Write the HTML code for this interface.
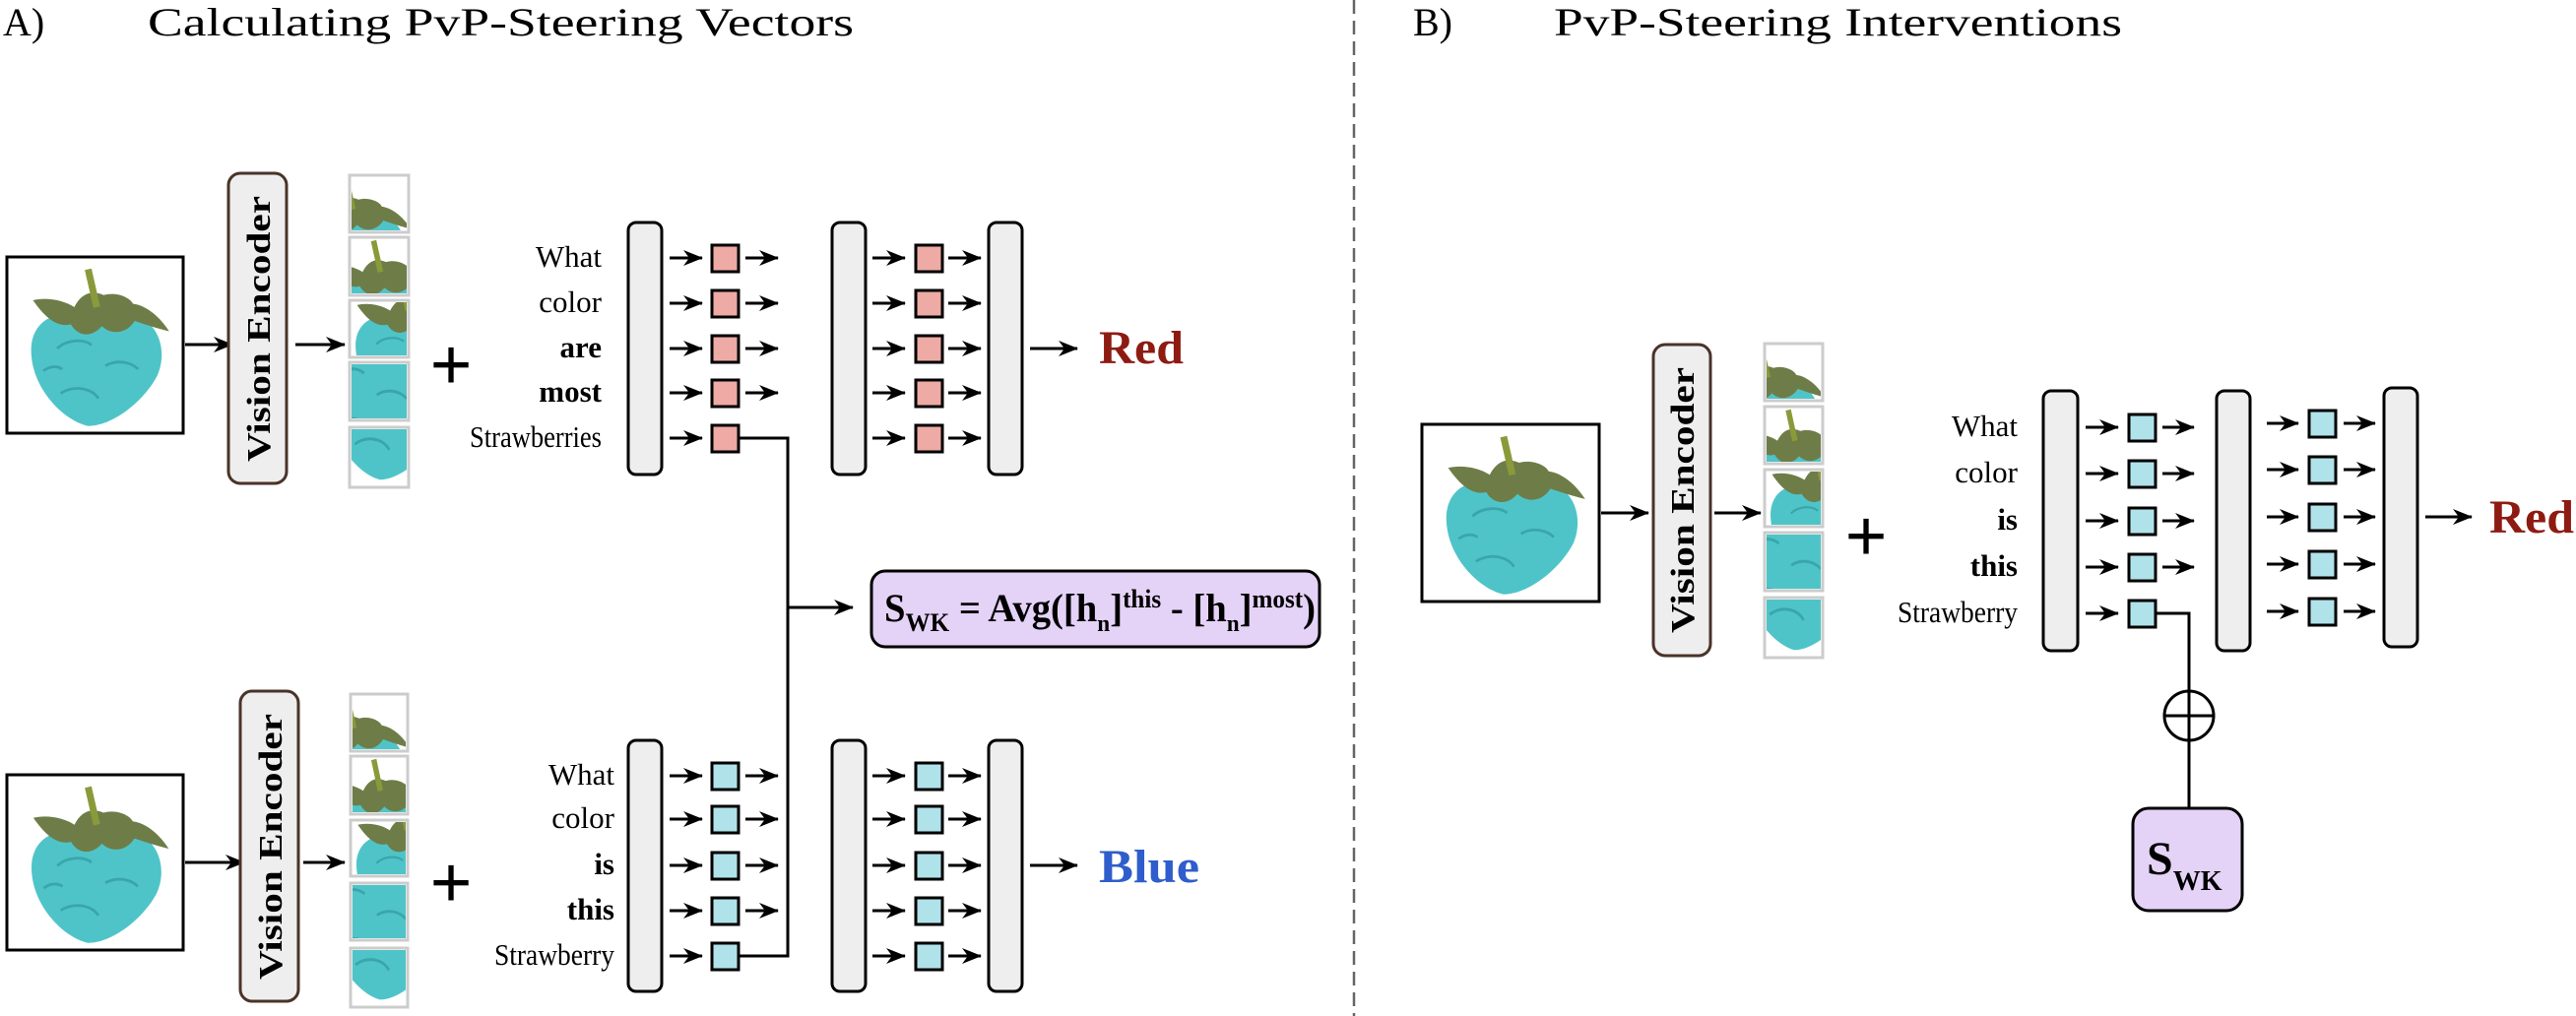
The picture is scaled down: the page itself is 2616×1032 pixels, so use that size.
<!DOCTYPE html>
<html><head><meta charset="utf-8"><style>
html,body{margin:0;padding:0;background:#fff;}
svg{display:block;}
text{font-family:"Liberation Serif","Times New Roman",serif;}
</style></head><body>
<svg width="2616" height="1032" viewBox="0 0 2616 1032" xmlns="http://www.w3.org/2000/svg" font-family="'Liberation Serif', 'Times New Roman', serif">
<defs>
<marker id="ahb" viewBox="0 0 20 16" refX="19" refY="8" markerWidth="20" markerHeight="16" markerUnits="userSpaceOnUse" orient="auto">
<path d="M0,0 L20,8 L0,16 L6,8 Z" fill="#000"/>
</marker>
<g id="sb">
<path d="M46,97 C32,94 14,76 13,55 C12,40 22,31 36,32 C46,29 62,29 74,33 C88,38 92,55 86,68 C78,83 60,97 46,97Z" fill="#4fc4c8"/>
<path d="M28,52 C33,47 43,46 48,50 M56,62 C63,58 71,60 75,64 M30,78 C38,73 48,75 52,81 M20,65 C24,62 28,62 31,64" stroke="#3aa6ab" stroke-width="1.6" fill="none"/>
<path d="M14,24 C22,22 32,24 38,28 C42,20 48,18 55,21 C62,19 70,22 72,26 C80,27 88,34 93,42 C85,40 79,38 73,36 C68,44 59,44 54,39 C48,46 40,45 36,38 C28,40 21,34 14,24Z" fill="#6e7d48"/>
<path d="M46,6 L51,28" stroke="#8a9a3a" stroke-width="4"/>
</g>
</defs>

<text x="3" y="36" font-size="40">A)</text>
<text x="150" y="36" font-size="40" textLength="717" lengthAdjust="spacingAndGlyphs">Calculating PvP-Steering Vectors</text>
<text x="1435" y="36" font-size="40">B)</text>
<text x="1578" y="36" font-size="40" textLength="577" lengthAdjust="spacingAndGlyphs">PvP-Steering Interventions</text>
<line x1="1375" y1="0" x2="1375" y2="1032" stroke="#666" stroke-width="2.5" stroke-dasharray="14,7"/>

<!-- PANEL A TOP -->
<rect x="7" y="261" width="179" height="179" fill="#fff" stroke="#000" stroke-width="3"/>
<svg x="9" y="263" width="175" height="175" viewBox="0 0 100 100"><use href="#sb"/></svg>
<line x1="188" y1="350" x2="236" y2="350" stroke="#000" stroke-width="3" marker-end="url(#ahb)"/>
<rect x="232" y="176" width="59" height="315" rx="12" fill="#eee" stroke="#4a3328" stroke-width="3"/>
<text transform="translate(274,334) rotate(-90)" font-size="34" font-weight="bold" text-anchor="middle" textLength="270" lengthAdjust="spacingAndGlyphs">Vision Encoder</text>
<line x1="300" y1="350" x2="350" y2="350" stroke="#000" stroke-width="3" marker-end="url(#ahb)"/>
<g stroke="#ccc" stroke-width="3" fill="#fff">
<rect x="355" y="178" width="60" height="58"/><rect x="355" y="241" width="60" height="59"/><rect x="355" y="305" width="60" height="58"/><rect x="355" y="368" width="60" height="59"/><rect x="355" y="434" width="60" height="61"/>
</g>
<svg x="357" y="180" width="56" height="54" viewBox="50 5 40 38" preserveAspectRatio="none"><use href="#sb"/></svg>
<svg x="357" y="243" width="56" height="55" viewBox="30 5 40 38" preserveAspectRatio="none"><use href="#sb"/></svg>
<svg x="357" y="307" width="56" height="54" viewBox="10 22 40 38" preserveAspectRatio="none"><use href="#sb"/></svg>
<svg x="357" y="370" width="56" height="55" viewBox="40 45 35 30" preserveAspectRatio="none"><use href="#sb"/></svg>
<svg x="357" y="436" width="56" height="57" viewBox="28 70 35 30" preserveAspectRatio="none"><use href="#sb"/></svg>
<text x="458" y="396" font-size="76" font-weight="bold" text-anchor="middle">+</text>
<g font-size="31" text-anchor="end">
<text x="611" y="271">What</text><text x="611" y="317">color</text><text x="611" y="363" font-weight="bold">are</text><text x="611" y="408" font-weight="bold">most</text><text x="611" y="454" textLength="134" lengthAdjust="spacingAndGlyphs">Strawberries</text>
</g>

<!-- PANEL A BOTTOM -->
<rect x="7" y="787" width="179" height="178" fill="#fff" stroke="#000" stroke-width="3"/>
<svg x="9" y="789" width="175" height="174" viewBox="0 0 100 100"><use href="#sb"/></svg>
<line x1="188" y1="876" x2="248" y2="876" stroke="#000" stroke-width="3" marker-end="url(#ahb)"/>
<rect x="244" y="702" width="59" height="315" rx="12" fill="#eee" stroke="#4a3328" stroke-width="3"/>
<text transform="translate(286,860) rotate(-90)" font-size="34" font-weight="bold" text-anchor="middle" textLength="270" lengthAdjust="spacingAndGlyphs">Vision Encoder</text>
<line x1="308" y1="876" x2="350" y2="876" stroke="#000" stroke-width="3" marker-end="url(#ahb)"/>
<g stroke="#ccc" stroke-width="3" fill="#fff">
<rect x="356" y="705" width="58" height="58"/><rect x="356" y="768" width="58" height="59"/><rect x="356" y="833" width="58" height="57"/><rect x="356" y="897" width="58" height="58"/><rect x="356" y="963" width="58" height="60"/>
</g>
<svg x="358" y="707" width="54" height="54" viewBox="50 5 40 38" preserveAspectRatio="none"><use href="#sb"/></svg>
<svg x="358" y="770" width="54" height="55" viewBox="30 5 40 38" preserveAspectRatio="none"><use href="#sb"/></svg>
<svg x="358" y="835" width="54" height="53" viewBox="10 22 40 38" preserveAspectRatio="none"><use href="#sb"/></svg>
<svg x="358" y="899" width="54" height="54" viewBox="40 45 35 30" preserveAspectRatio="none"><use href="#sb"/></svg>
<svg x="358" y="965" width="54" height="56" viewBox="28 70 35 30" preserveAspectRatio="none"><use href="#sb"/></svg>
<text x="458" y="922" font-size="76" font-weight="bold" text-anchor="middle">+</text>
<g font-size="31" text-anchor="end">
<text x="624" y="797">What</text><text x="624" y="841">color</text><text x="624" y="888" font-weight="bold">is</text><text x="624" y="934" font-weight="bold">this</text><text x="624" y="980" textLength="122" lengthAdjust="spacingAndGlyphs">Strawberry</text>
</g>

<g fill="#eee" stroke="#000" stroke-width="3">
<rect x="638" y="226" width="34" height="256" rx="8"/><rect x="845" y="226" width="34" height="256" rx="8"/><rect x="1004" y="226" width="34" height="256" rx="8"/>
<rect x="638" y="752" width="34" height="255" rx="8"/><rect x="845" y="752" width="34" height="255" rx="8"/><rect x="1004" y="752" width="34" height="255" rx="8"/>
</g>
<g stroke="#000" stroke-width="3" marker-end="url(#ahb)">
<line x1="680" y1="262" x2="713" y2="262"/><line x1="757" y1="262" x2="790" y2="262"/><line x1="886" y1="262" x2="919" y2="262"/><line x1="963" y1="262" x2="996" y2="262"/>
<line x1="680" y1="308" x2="713" y2="308"/><line x1="757" y1="308" x2="790" y2="308"/><line x1="886" y1="308" x2="919" y2="308"/><line x1="963" y1="308" x2="996" y2="308"/>
<line x1="680" y1="354" x2="713" y2="354"/><line x1="757" y1="354" x2="790" y2="354"/><line x1="886" y1="354" x2="919" y2="354"/><line x1="963" y1="354" x2="996" y2="354"/>
<line x1="680" y1="399" x2="713" y2="399"/><line x1="757" y1="399" x2="790" y2="399"/><line x1="886" y1="399" x2="919" y2="399"/><line x1="963" y1="399" x2="996" y2="399"/>
<line x1="680" y1="445" x2="713" y2="445"/><line x1="886" y1="445" x2="919" y2="445"/><line x1="963" y1="445" x2="996" y2="445"/>
<line x1="1046" y1="354" x2="1094" y2="354"/>
<line x1="680" y1="788" x2="713" y2="788"/><line x1="757" y1="788" x2="790" y2="788"/><line x1="886" y1="788" x2="919" y2="788"/><line x1="963" y1="788" x2="996" y2="788"/>
<line x1="680" y1="832" x2="713" y2="832"/><line x1="757" y1="832" x2="790" y2="832"/><line x1="886" y1="832" x2="919" y2="832"/><line x1="963" y1="832" x2="996" y2="832"/>
<line x1="680" y1="879" x2="713" y2="879"/><line x1="757" y1="879" x2="790" y2="879"/><line x1="886" y1="879" x2="919" y2="879"/><line x1="963" y1="879" x2="996" y2="879"/>
<line x1="680" y1="925" x2="713" y2="925"/><line x1="757" y1="925" x2="790" y2="925"/><line x1="886" y1="925" x2="919" y2="925"/><line x1="963" y1="925" x2="996" y2="925"/>
<line x1="680" y1="971" x2="713" y2="971"/><line x1="886" y1="971" x2="919" y2="971"/><line x1="963" y1="971" x2="996" y2="971"/>
<line x1="1046" y1="879" x2="1094" y2="879"/>
<line x1="800" y1="617" x2="866" y2="617"/>
</g>
<polyline points="750,445 800,445 800,971 750,971" fill="none" stroke="#000" stroke-width="3"/>
<g fill="#eeaaa4" stroke="#000" stroke-width="3">
<rect x="723" y="249" width="27" height="27"/><rect x="723" y="295" width="27" height="27"/><rect x="723" y="341" width="27" height="27"/><rect x="723" y="386" width="27" height="27"/><rect x="723" y="432" width="27" height="27"/>
<rect x="930" y="249" width="27" height="27"/><rect x="930" y="295" width="27" height="27"/><rect x="930" y="341" width="27" height="27"/><rect x="930" y="386" width="27" height="27"/><rect x="930" y="432" width="27" height="27"/>
</g>
<g fill="#b0e2ea" stroke="#000" stroke-width="3">
<rect x="723" y="775" width="27" height="27"/><rect x="723" y="819" width="27" height="27"/><rect x="723" y="866" width="27" height="27"/><rect x="723" y="912" width="27" height="27"/><rect x="723" y="958" width="27" height="27"/>
<rect x="930" y="775" width="27" height="27"/><rect x="930" y="819" width="27" height="27"/><rect x="930" y="866" width="27" height="27"/><rect x="930" y="912" width="27" height="27"/><rect x="930" y="958" width="27" height="27"/>
</g>
<text x="1116" y="369" font-size="48" font-weight="bold" fill="#8e1b12" textLength="86" lengthAdjust="spacingAndGlyphs">Red</text>
<text x="1116" y="896" font-size="48" font-weight="bold" fill="#2f5dcc" textLength="102" lengthAdjust="spacingAndGlyphs">Blue</text>
<rect x="885" y="580" width="455" height="77" rx="14" fill="#e5d2f7" stroke="#000" stroke-width="3"/>
<text x="898" y="631" font-size="40" font-weight="bold" textLength="438" lengthAdjust="spacingAndGlyphs">S<tspan font-size="26" dy="10">WK</tspan><tspan dy="-10"> = Avg([h</tspan><tspan font-size="24" dy="10">n</tspan><tspan dy="-10">]</tspan><tspan font-size="26" dy="-14">this</tspan><tspan dy="14"> - [h</tspan><tspan font-size="24" dy="10">n</tspan><tspan dy="-10">]</tspan><tspan font-size="26" dy="-14">most</tspan><tspan dy="14">)</tspan></text>

<!-- PANEL B -->
<rect x="1444" y="431" width="180" height="180" fill="#fff" stroke="#000" stroke-width="3"/>
<svg x="1446" y="433" width="176" height="176" viewBox="0 0 100 100"><use href="#sb"/></svg>
<line x1="1626" y1="521" x2="1674" y2="521" stroke="#000" stroke-width="3" marker-end="url(#ahb)"/>
<rect x="1679" y="350" width="58" height="316" rx="12" fill="#eee" stroke="#4a3328" stroke-width="3"/>
<text transform="translate(1720,508) rotate(-90)" font-size="34" font-weight="bold" text-anchor="middle" textLength="270" lengthAdjust="spacingAndGlyphs">Vision Encoder</text>
<line x1="1741" y1="521" x2="1788" y2="521" stroke="#000" stroke-width="3" marker-end="url(#ahb)"/>
<g stroke="#ccc" stroke-width="3" fill="#fff">
<rect x="1792" y="349" width="59" height="58"/><rect x="1792" y="413" width="59" height="58"/><rect x="1792" y="477" width="59" height="58"/><rect x="1792" y="541" width="59" height="59"/><rect x="1792" y="607" width="59" height="61"/>
</g>
<svg x="1794" y="351" width="55" height="54" viewBox="50 5 40 38" preserveAspectRatio="none"><use href="#sb"/></svg>
<svg x="1794" y="415" width="55" height="54" viewBox="30 5 40 38" preserveAspectRatio="none"><use href="#sb"/></svg>
<svg x="1794" y="479" width="55" height="54" viewBox="10 22 40 38" preserveAspectRatio="none"><use href="#sb"/></svg>
<svg x="1794" y="543" width="55" height="55" viewBox="40 45 35 30" preserveAspectRatio="none"><use href="#sb"/></svg>
<svg x="1794" y="609" width="55" height="57" viewBox="28 70 35 30" preserveAspectRatio="none"><use href="#sb"/></svg>
<text x="1895" y="570" font-size="76" font-weight="bold" text-anchor="middle">+</text>
<g font-size="31" text-anchor="end">
<text x="2049" y="443">What</text><text x="2049" y="490">color</text><text x="2049" y="538" font-weight="bold">is</text><text x="2049" y="585" font-weight="bold">this</text><text x="2049" y="632" textLength="122" lengthAdjust="spacingAndGlyphs">Strawberry</text>
</g>
<g fill="#eee" stroke="#000" stroke-width="3">
<rect x="2075" y="397" width="35" height="264" rx="8"/><rect x="2251" y="397" width="34" height="264" rx="8"/><rect x="2421" y="394" width="34" height="263" rx="8"/>
</g>
<g stroke="#000" stroke-width="3" marker-end="url(#ahb)">
<line x1="2118" y1="434" x2="2151" y2="434"/><line x1="2196" y1="434" x2="2228" y2="434"/>
<line x1="2118" y1="481" x2="2151" y2="481"/><line x1="2196" y1="481" x2="2228" y2="481"/>
<line x1="2118" y1="529" x2="2151" y2="529"/><line x1="2196" y1="529" x2="2228" y2="529"/>
<line x1="2118" y1="576" x2="2151" y2="576"/><line x1="2196" y1="576" x2="2228" y2="576"/>
<line x1="2118" y1="623" x2="2151" y2="623"/>
<line x1="2302" y1="430" x2="2334" y2="430"/><line x1="2380" y1="430" x2="2412" y2="430"/>
<line x1="2302" y1="477" x2="2334" y2="477"/><line x1="2380" y1="477" x2="2412" y2="477"/>
<line x1="2302" y1="525" x2="2334" y2="525"/><line x1="2380" y1="525" x2="2412" y2="525"/>
<line x1="2302" y1="573" x2="2334" y2="573"/><line x1="2380" y1="573" x2="2412" y2="573"/>
<line x1="2302" y1="621" x2="2334" y2="621"/><line x1="2380" y1="621" x2="2412" y2="621"/>
<line x1="2463" y1="525" x2="2510" y2="525"/>
</g>
<polyline points="2189,623 2223,623 2223,821" fill="none" stroke="#000" stroke-width="3"/>
<circle cx="2223" cy="727" r="25" fill="#fff" stroke="#000" stroke-width="3"/>
<line x1="2198" y1="727" x2="2248" y2="727" stroke="#000" stroke-width="3"/>
<line x1="2223" y1="702" x2="2223" y2="752" stroke="#000" stroke-width="3"/>
<g fill="#b0e2ea" stroke="#000" stroke-width="3">
<rect x="2162" y="421" width="27" height="27"/><rect x="2162" y="468" width="27" height="27"/><rect x="2162" y="516" width="27" height="27"/><rect x="2162" y="563" width="27" height="27"/><rect x="2162" y="610" width="27" height="27"/>
<rect x="2345" y="417" width="27" height="27"/><rect x="2345" y="464" width="27" height="27"/><rect x="2345" y="512" width="27" height="27"/><rect x="2345" y="560" width="27" height="27"/><rect x="2345" y="608" width="27" height="27"/>
</g>
<text x="2528" y="541" font-size="48" font-weight="bold" fill="#8e1b12" textLength="86" lengthAdjust="spacingAndGlyphs">Red</text>
<rect x="2166" y="821" width="111" height="104" rx="16" fill="#e5d2f7" stroke="#000" stroke-width="3"/>
<text x="2180" y="888" font-size="48" font-weight="bold">S<tspan font-size="28" dy="16">WK</tspan></text>
</svg>
</body></html>
